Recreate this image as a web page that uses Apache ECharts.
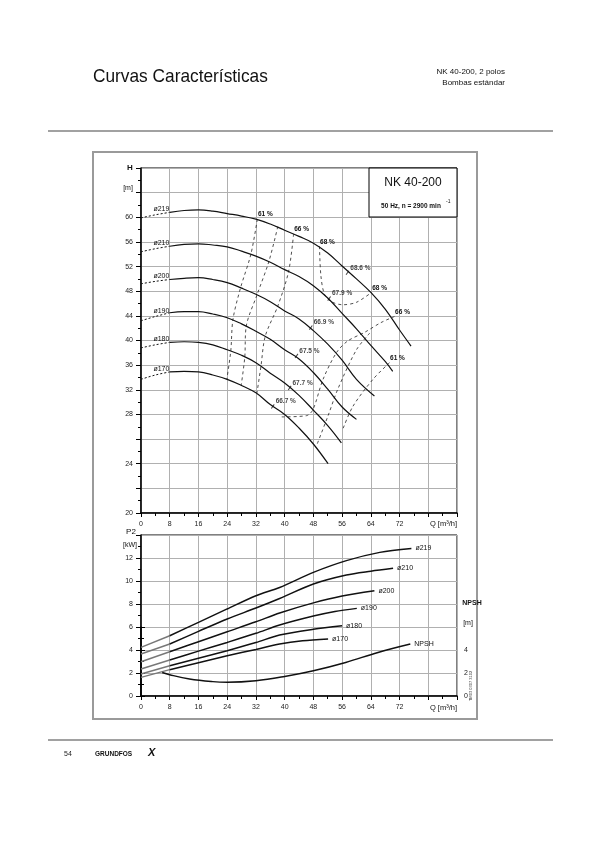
<!DOCTYPE html>
<html><head><meta charset="utf-8">
<script src="https://cdn.jsdelivr.net/npm/echarts/dist/echarts.min.js"></script>
<style>html,body{margin:0;padding:0;background:#fff}#c{width:600px;height:848px}</style>
</head><body><div id="c"></div>
<script>
// ---------- DATA ----------
const impNames = ['ø219','ø210','ø200','ø190','ø180','ø170'];
// Head curves H [m] vs Q [m3/h]
const h219 = [[0,59.9],[4,60.4],[8,60.8],[12,61.1],[16,61.2],[20,61.0],[24,60.6],[28,60.2],[32,59.7],[36,58.9],[40,57.9],[44,56.9],[48,55.8],[52,54.2],[56,52.1],[60,50.0],[64,47.8],[68,45.1],[72,41.7],[75.2,39.1]];
const h210 = [[0,54.4],[4,54.9],[8,55.3],[12,55.6],[16,55.7],[20,55.5],[24,55.2],[28,54.5],[32,53.7],[36,52.7],[40,51.5],[44,50.4],[48,48.9],[52,46.9],[56,44.4],[60,41.9],[64,39.2],[68,36.6],[70.1,35.0]];
const h200 = [[0,49.2],[4,49.6],[8,49.9],[12,50.1],[16,50.2],[20,49.9],[24,49.4],[28,48.5],[32,47.5],[36,46.3],[40,44.8],[44,43.5],[48,41.6],[52,39.4],[56,36.8],[60,33.7],[65,31.0]];
const h190 = [[0,43.2],[4,43.9],[8,44.5],[12,44.7],[16,44.7],[20,44.3],[24,43.7],[28,42.7],[32,41.5],[36,40.2],[40,38.5],[44,37.0],[48,34.8],[52,32.1],[56,29.2],[60,27.6]];
const h180 = [[0,38.8],[4,39.3],[8,39.7],[12,39.8],[16,39.7],[20,39.3],[24,38.5],[28,37.6],[32,36.4],[36,34.7],[40,33.1],[44,31.1],[48,28.7],[52,27.1],[55.8,25.7]];
const h170 = [[0,33.7],[4,34.4],[8,34.9],[12,35.0],[16,34.9],[20,34.4],[24,33.7],[28,32.7],[32,31.5],[36,29.6],[40,28.0],[44,26.9],[48,25.6],[52.1,24.0]];
// Iso-efficiency lines (first point lies on the ø219 / ø210 curve)
const effNames = ['61 %','','66 %','68 %','66 %','','61 %'];
const eff61L = [[32.4,59.7],[30.6,54.0],[27.7,48.5],[25.6,43.4],[25.0,38.3],[23.9,33.7]];
const eff64L = [[38.1,58.5],[35.6,52.8],[32.3,47.4],[29.3,42.3],[28.9,37.3],[27.9,32.7]];
const eff66L = [[42.5,57.3],[41.1,51.2],[38.1,45.6],[34.6,40.7],[33.4,35.8],[32.3,31.5]];
const eff68 = [[49.7,55.3],[50.1,50.5],[51.1,47.5],[53,46.3],[56.2,45.8],[60,46.2],[64.2,47.8]];
const eff66R = [[70.6,43.9],[66.8,42.9],[62.2,41.3],[57.5,39.9],[54.4,38.0],[50.7,33.7],[47.9,28.8],[46.1,27.9],[39.2,27.8]];
const eff64R = [[63.7,41.2],[60.0,38.5],[54.8,32.1],[52.1,27.9],[48.8,25.4]];
const eff61R = [[69.2,36.4],[64.6,33.7],[59.0,29.3],[56.2,26.8]];
// Best efficiency points on each impeller
const bepQ = [57.5,52.4,47.3,43.3,41.4,36.7];
const bepH = [51.0,46.8,42.1,37.5,32.3,29.3];
const bepEta = ['68.6 %','67.9 %','66.9 %','67.5 %','67.7 %','66.7 %'];
// Power curves P2 [kW]
const p219 = [[0,4.23],[8,5.24],[16,6.4],[24,7.57],[32,8.72],[38.6,9.44],[48,10.75],[57.2,11.77],[66.5,12.49],[75.3,12.83]];
const p210 = [[0,3.65],[8,4.52],[16,5.62],[24,6.7],[32,7.65],[38.6,8.48],[48,9.74],[57.2,10.52],[64,10.85],[70.2,11.1]];
const p200 = [[0,2.98],[8,3.85],[16,4.72],[24,5.59],[32,6.45],[38.6,7.22],[48,8.1],[56,8.7],[65,9.16]];
const p190 = [[0,2.35],[8,3.13],[16,3.9],[24,4.66],[32,5.45],[38.6,6.17],[48,6.95],[54,7.35],[60.1,7.62]];
const p180 = [[0,1.91],[8,2.63],[16,3.28],[24,3.94],[32,4.65],[38.6,5.3],[48,5.8],[56,6.11]];
const p170 = [[0,1.62],[8,2.29],[16,2.9],[24,3.5],[32,4.05],[38.6,4.52],[45,4.8],[52.1,4.96]];
// NPSH [m]
const npsh = [[5.9,2.05],[8,1.85],[13.5,1.48],[20,1.25],[24,1.2],[32,1.33],[40,1.7],[48,2.2],[57,2.92],[66,3.79],[75,4.52]];
// Axis ticks
const qLabels = [0,8,16,24,32,40,48,56,64,72];
const hLabels = [20,24,28,32,36,40,44,48,52,56,60];
const pLabels = [0,2,4,6,8,10,12];
const npshLabels = [0,2,4];

// ---------- HELPERS ----------
// Head axis: above 28 m linear, below 28 m drawn at double scale (as in original)
function tf(h){ return h >= 28 ? h : 28 - 2*(28 - h); }
function inv(v){ return v >= 28 ? v : 28 - (28 - v)/2; }
const F = 'Liberation Sans, Arial, sans-serif';
const lbl = {fontFamily:F, fontSize:7, color:'#222'};
const gridLine = {show:true, lineStyle:{color:'#b0b0b0', width:1}};
const axLine = {show:true, onZero:false, lineStyle:{color:'#000', width:1.5}};

const series = [];
const hCurves = [h219,h210,h200,h190,h180,h170];
hCurves.forEach((c,i)=>{
  const dashed = c.filter(d=>d[0]<=8).map(d=>[d[0],tf(d[1])]);
  const solid = c.filter(d=>d[0]>=8).map(d=>[d[0],tf(d[1])]);
  dashed[1] = {value: dashed[1], label:{show:true, position:'top', distance:2, offset:[6,0], formatter: impNames[i], fontFamily:F, fontSize:7, color:'#111'}};
  series.push({type:'line', xAxisIndex:0, yAxisIndex:0, data:dashed, smooth:0.4, symbol:'circle', symbolSize:0, lineStyle:{color:'#111', width:1, type:[2,2]}, z:5});
  series.push({type:'line', xAxisIndex:0, yAxisIndex:0, data:solid, smooth:0.4, symbol:'circle', symbolSize:0, lineStyle:{color:'#111', width:1.2}, z:5});
});
const effLines = [eff61L, eff64L, eff66L, eff68, eff66R, eff64R, eff61R];
effLines.forEach((c,i)=>{
  const d = c.map(p=>[p[0],tf(p[1])]);
  const last = d.length-1;
  const items = d.map((p,j)=>{
    if (effNames[i] && (j===0 || (i===3 && j===last))) {
      return {value:p, label:{show:true, position:'top', distance:1, offset:[8,0], formatter:effNames[i], fontFamily:F, fontSize:6.5, fontWeight:'bold', color:'#111'}};
    }
    return p;
  });
  series.push({type:'line', xAxisIndex:0, yAxisIndex:0, data:items, smooth:0.3, symbol:'circle', symbolSize:0, lineStyle:{color:'#222', width:0.8, type:[3,3]}, z:4});
});
series.push({type:'scatter', xAxisIndex:0, yAxisIndex:0, symbol:'rect', symbolSize:[1,5], symbolRotate:-35, itemStyle:{color:'#111'},
  data: bepQ.map((q,i)=>({value:[q,tf(bepH[i])], label:{show:true, position:'right', distance:1, offset:[0,-5], formatter:bepEta[i], fontFamily:F, fontSize:6.5, fontWeight:'bold', color:'#111'}})), z:6});

const pCurves = [p219,p210,p200,p190,p180,p170];
pCurves.forEach((c,i)=>{
  const grey = c.filter(d=>d[0]<=8);
  const black = c.filter(d=>d[0]>=8).map(d=>d.slice());
  const last = black.length-1;
  black[last] = {value:black[last], label:{show:true, position:'right', distance:4, formatter:impNames[i], fontFamily:F, fontSize:7, color:'#111'}};
  series.push({type:'line', xAxisIndex:1, yAxisIndex:1, data:grey, smooth:0.3, symbol:'circle', symbolSize:0, lineStyle:{color:'#777', width:1.4}, z:5});
  series.push({type:'line', xAxisIndex:1, yAxisIndex:1, data:black, smooth:0.3, symbol:'circle', symbolSize:0, lineStyle:{color:'#111', width:1.5}, z:5});
});
const npshData = npsh.map(d=>d.slice());
npshData[npshData.length-1] = {value:npshData[npshData.length-1], label:{show:true, position:'right', distance:4, formatter:'NPSH', fontFamily:F, fontSize:7, color:'#111'}};
series.push({type:'line', xAxisIndex:2, yAxisIndex:2, data:npshData, smooth:0.4, symbol:'circle', symbolSize:0, lineStyle:{color:'#111', width:1.5}, z:5});

const xBase = (idx, show) => ({gridIndex:idx, type:'value', min:0, max:88, interval:8,
  axisLine:axLine, axisTick:{show:show, length:4, lineStyle:{color:'#000'}},
  minorTick:{show:show, splitNumber:2, length:3, lineStyle:{color:'#000'}},
  splitLine: show ? gridLine : {show:false},
  axisLabel:{show:show, ...lbl, margin:8, formatter:v=> qLabels.includes(v) ? String(v) : ''}});

const option = {
  animation:false,
  backgroundColor:'#fff',
  grid:[
    {left:141, top:168, width:316, height:345, show:true, borderColor:'#000', borderWidth:1},
    {left:141, top:535, width:316, height:161, show:true, borderColor:'#000', borderWidth:1},
    {left:141, top:627, width:316, height:69}
  ],
  xAxis:[ xBase(0,true), xBase(1,true), Object.assign(xBase(2,false),{axisLine:{show:false}}) ],
  yAxis:[
    {gridIndex:0, type:'value', min:12, max:68, interval:4,
     axisLine:axLine, axisTick:{length:5, lineStyle:{color:'#000'}},
     minorTick:{show:true, splitNumber:2, length:3, lineStyle:{color:'#000'}},
     splitLine:gridLine,
     axisLabel:{...lbl, margin:8, formatter:v=>{const h=inv(v); return hLabels.includes(h)?String(h):'';}}},
    {gridIndex:1, type:'value', min:0, max:14, interval:2,
     axisLine:axLine, axisTick:{length:5, lineStyle:{color:'#000'}},
     minorTick:{show:true, splitNumber:2, length:3, lineStyle:{color:'#000'}},
     splitLine:gridLine,
     axisLabel:{...lbl, margin:8, formatter:v=> pLabels.includes(v)?String(v):''}},
    {gridIndex:2, type:'value', position:'right', min:0, max:6, interval:2,
     axisLine:{show:true, lineStyle:{color:'#000', width:1.5}}, axisTick:{length:4, lineStyle:{color:'#000'}},
     minorTick:{show:true, splitNumber:2, length:3, lineStyle:{color:'#000'}},
     splitLine:{show:false},
     axisLabel:{...lbl, margin:7, formatter:v=> npshLabels.includes(v)?String(v):''}}
  ],
  series: series,
  graphic:[
    {type:'text', x:93, y:77, scaleX:0.91, originX:0, originY:0, style:{text:'Curvas Características', font:'19px Liberation Sans, Arial, sans-serif', fill:'#111', textVerticalAlign:'middle'}},
    {type:'text', right:95, top:68, style:{text:'NK 40-200, 2 polos', font:'8px Liberation Sans, Arial, sans-serif', fill:'#111', textAlign:'right'}},
    {type:'text', right:95, top:79, style:{text:'Bombas estándar', font:'8px Liberation Sans, Arial, sans-serif', fill:'#111', textAlign:'right'}},
    {type:'line', shape:{x1:48, y1:131, x2:553, y2:131}, style:{stroke:'#444', lineWidth:1.2}},
    {type:'line', shape:{x1:48, y1:740, x2:553, y2:740}, style:{stroke:'#444', lineWidth:1.2}},
    {type:'text', left:64, top:751, style:{text:'54', font:'7px Liberation Sans, Arial, sans-serif', fill:'#222'}},
    {type:'text', left:95, top:751, style:{text:'GRUNDFOS', font:'bold 6.5px Liberation Sans, Arial, sans-serif', fill:'#111'}},
    {type:'text', left:148, top:747, style:{text:'X', font:'bold italic 11px Liberation Sans, Arial, sans-serif', fill:'#111'}},
    {type:'rect', shape:{x:93, y:152, width:384, height:567}, style:{fill:'none', stroke:'#9a9a9a', lineWidth:2}, z:0},
    {type:'rect', shape:{x:369, y:168, width:88, height:49}, style:{fill:'#fff', stroke:'#000', lineWidth:1}, z:100},
    {type:'text', x:413, y:183, style:{text:'NK 40-200', font:'12px Liberation Sans, Arial, sans-serif', fill:'#111', textAlign:'center', textVerticalAlign:'middle'}, z:101},
    {type:'text', x:411, y:206, style:{text:'50 Hz, n = 2900 min', font:'bold 6.5px Liberation Sans, Arial, sans-serif', fill:'#111', textAlign:'center', textVerticalAlign:'middle'}, z:101},
    {type:'text', x:446, y:202, style:{text:'-1', font:'5px Liberation Sans, Arial, sans-serif', fill:'#111', textAlign:'left', textVerticalAlign:'middle'}, z:101},
    {type:'text', x:130, y:168, style:{text:'H', font:'bold 8px Liberation Sans, Arial, sans-serif', fill:'#111', textAlign:'center', textVerticalAlign:'middle'}},
    {type:'text', x:128, y:188, style:{text:'[m]', font:'7px Liberation Sans, Arial, sans-serif', fill:'#111', textAlign:'center', textVerticalAlign:'middle'}},
    {type:'text', x:457, y:524, style:{text:'Q [m³/h]', font:'7.5px Liberation Sans, Arial, sans-serif', fill:'#111', textAlign:'right', textVerticalAlign:'middle'}},
    {type:'text', x:131, y:532, style:{text:'P2', font:'8px Liberation Sans, Arial, sans-serif', fill:'#111', textAlign:'center', textVerticalAlign:'middle'}},
    {type:'text', x:130, y:545, style:{text:'[kW]', font:'7px Liberation Sans, Arial, sans-serif', fill:'#111', textAlign:'center', textVerticalAlign:'middle'}},
    {type:'text', x:457, y:708, style:{text:'Q [m³/h]', font:'7.5px Liberation Sans, Arial, sans-serif', fill:'#111', textAlign:'right', textVerticalAlign:'middle'}},
    {type:'text', x:472, y:603, style:{text:'NPSH', font:'bold 7px Liberation Sans, Arial, sans-serif', fill:'#111', textAlign:'center', textVerticalAlign:'middle'}},
    {type:'text', x:468, y:623, style:{text:'[m]', font:'7px Liberation Sans, Arial, sans-serif', fill:'#111', textAlign:'center', textVerticalAlign:'middle'}},
    {type:'text', x:471, y:686, rotation:Math.PI/2, style:{text:'TM03 0307 3102', font:'4px Liberation Sans, Arial, sans-serif', fill:'#333', textAlign:'center', textVerticalAlign:'middle'}}
  ]
};
const chart = echarts.init(document.getElementById('c'));
chart.setOption(option);
</script>
</body></html>
